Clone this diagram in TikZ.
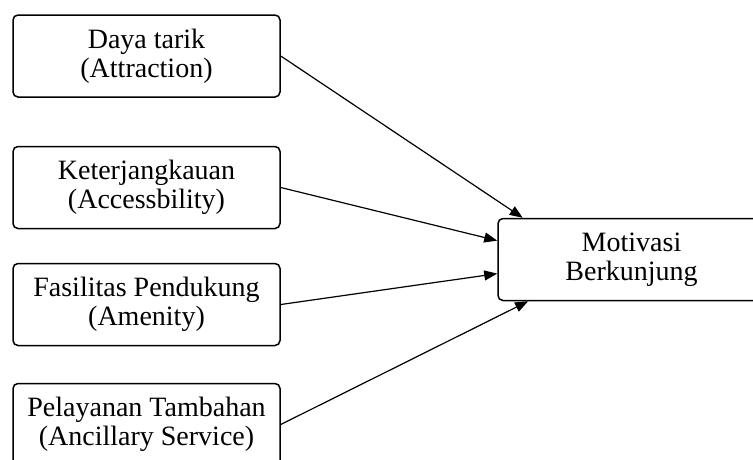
\documentclass[tikz,border=0pt]{standalone}
\usepackage{fontspec}
\setmainfont{Liberation Serif}
\usetikzlibrary{arrows.meta}

\begin{document}
\begin{tikzpicture}[x=1pt,y=-1pt,
    kotak/.style={draw,rounded corners=5pt,line width=1.5pt,
      minimum width=267pt,minimum height=82pt,align=center,
      font=\fontsize{28}{29}\selectfont}]
  \useasboundingbox (0,0) rectangle (753,459);
  \clip (0,0) rectangle (753,459);
  \draw
    (146.5,56) node[kotak] (attraction){Daya tarik\\(Attraction)}
    (146.5,187.5) node[kotak] (access){Keterjangkauan\\(Accessbility)}
    (146.5,304.5) node[kotak] (amenity){Fasilitas Pendukung\\(Amenity)}
    (146.5,424.5) node[kotak] (ancillary){Pelayanan Tambahan\\(Ancillary Service)}
    (631.5,259.5) node[kotak] (motivasi){Motivasi\\Berkunjung};
  \begin{scope}[-{Triangle[length=13pt,width=10pt]},line width=1.2pt]
    \draw (attraction.east) to (motivasi.159.5);
    \draw (access.east) to (motivasi.172.5);
    \draw (amenity.east) to (motivasi.186.6);
    \draw (ancillary.east) to (motivasi.202.2);
  \end{scope}
\end{tikzpicture}
\end{document}
